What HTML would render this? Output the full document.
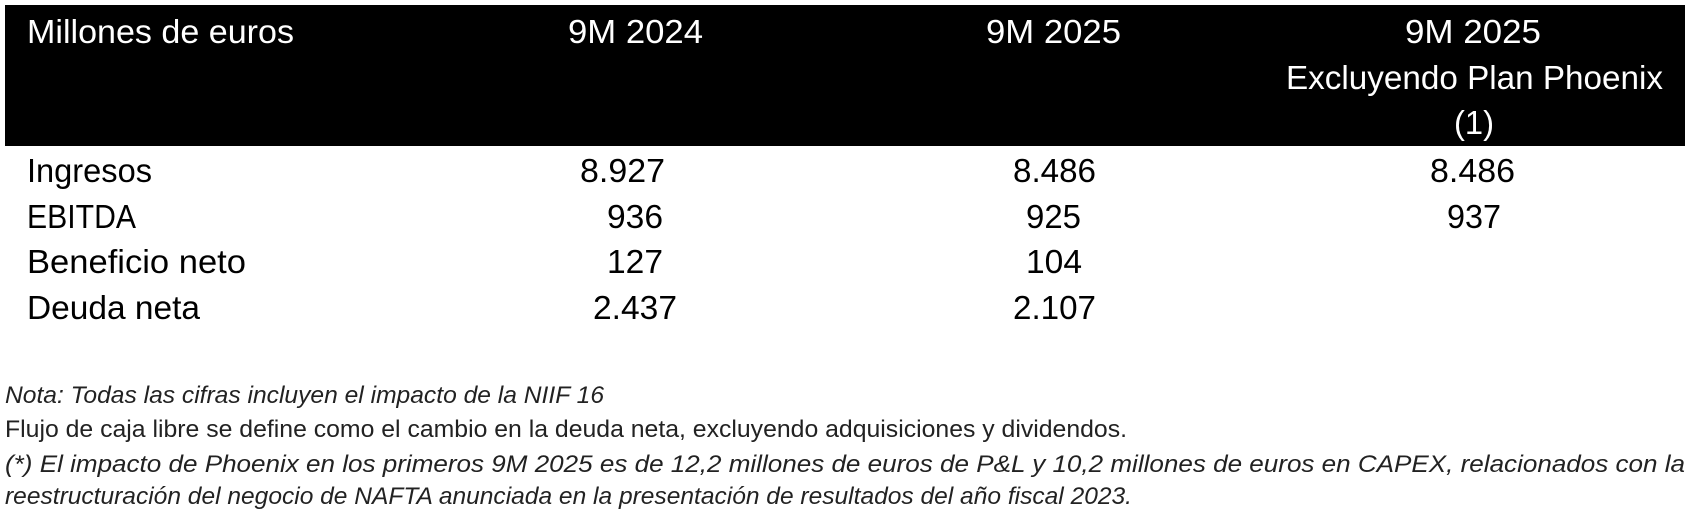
<!DOCTYPE html>
<html><head><meta charset="utf-8"><style>
html,body{margin:0;padding:0;background:#fff;width:1687px;height:514px;overflow:hidden}
svg{display:block}
text{font-family:"Liberation Sans",sans-serif}
</style></head><body>
<svg width="1687" height="514" viewBox="0 0 1687 514" xmlns="http://www.w3.org/2000/svg">
<rect x="5" y="5" width="1680" height="141" fill="#000"/>
<g fill="#fff" font-size="33">
<text x="27" y="43" textLength="267" lengthAdjust="spacingAndGlyphs">Millones de euros</text>
<text x="568" y="43" textLength="135" lengthAdjust="spacingAndGlyphs">9M 2024</text>
<text x="986" y="43" textLength="135" lengthAdjust="spacingAndGlyphs">9M 2025</text>
<text x="1405" y="43" textLength="136" lengthAdjust="spacingAndGlyphs">9M 2025</text>
<text x="1286" y="89" textLength="377" lengthAdjust="spacingAndGlyphs">Excluyendo Plan Phoenix</text>
<text x="1454" y="134" textLength="40" lengthAdjust="spacingAndGlyphs">(1)</text>
</g>
<g fill="#000" font-size="33">
<text x="27" y="182" textLength="125" lengthAdjust="spacingAndGlyphs">Ingresos</text>
<text x="27" y="228" textLength="109" lengthAdjust="spacingAndGlyphs">EBITDA</text>
<text x="27" y="273" textLength="219" lengthAdjust="spacingAndGlyphs">Beneficio neto</text>
<text x="27" y="319" textLength="173" lengthAdjust="spacingAndGlyphs">Deuda neta</text>
<text x="580" y="182" textLength="85" lengthAdjust="spacingAndGlyphs">8.927</text>
<text x="607" y="228" textLength="56" lengthAdjust="spacingAndGlyphs">936</text>
<text x="607" y="273" textLength="56" lengthAdjust="spacingAndGlyphs">127</text>
<text x="593" y="319" textLength="84" lengthAdjust="spacingAndGlyphs">2.437</text>
<text x="1013" y="182" textLength="83" lengthAdjust="spacingAndGlyphs">8.486</text>
<text x="1026" y="228" textLength="55" lengthAdjust="spacingAndGlyphs">925</text>
<text x="1026" y="273" textLength="56" lengthAdjust="spacingAndGlyphs">104</text>
<text x="1013" y="319" textLength="83" lengthAdjust="spacingAndGlyphs">2.107</text>
<text x="1430" y="182" textLength="85" lengthAdjust="spacingAndGlyphs">8.486</text>
<text x="1447" y="228" textLength="54" lengthAdjust="spacingAndGlyphs">937</text>
</g>
<g fill="#222" font-size="24">
<text x="5" y="403" font-style="italic" textLength="599" lengthAdjust="spacingAndGlyphs">Nota: Todas las cifras incluyen el impacto de la NIIF 16</text>
<text x="5" y="437" textLength="1122" lengthAdjust="spacingAndGlyphs">Flujo de caja libre se define como el cambio en la deuda neta, excluyendo adquisiciones y dividendos.</text>
<text x="5" y="472" font-style="italic" textLength="1680" lengthAdjust="spacingAndGlyphs">(*) El impacto de Phoenix en los primeros 9M 2025 es de 12,2 millones de euros de P&amp;L y 10,2 millones de euros en CAPEX, relacionados con la</text>
<text x="5" y="504" font-style="italic" textLength="1127" lengthAdjust="spacingAndGlyphs">reestructuración del negocio de NAFTA anunciada en la presentación de resultados del año fiscal 2023.</text>
</g>
</svg>
</body></html>
